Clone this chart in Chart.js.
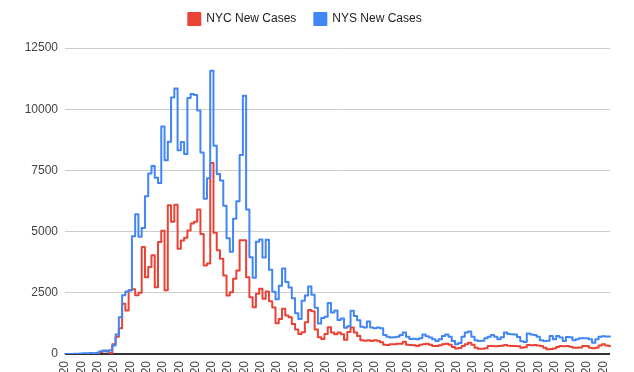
<!DOCTYPE html>
<html>
<head>
<meta charset="utf-8">
<script src="https://cdn.jsdelivr.net/npm/chart.js@4.4.0/dist/chart.umd.min.js"></script>
<style>
html,body{margin:0;padding:0;overflow:hidden;background:#fff;width:634px;height:372px}
#wrap{width:634px;height:420px}
</style>
</head>
<body>
<div id="wrap"><canvas id="c" width="634" height="420"></canvas></div>
<script>
// Categories: daily dates from 3/1/2020 (168 days)
const categories = [];
for (let d = new Date(2020, 2, 1), k = 0; k < 168; k++, d.setDate(d.getDate() + 1)) {
  categories.push((d.getMonth() + 1) + '/' + d.getDate() + '/' + d.getFullYear());
}
const tickEvery = 5;

const nycNewCases = [
  0,0,0,1,2,2,4,5,10,15,
  30,80,110,130,40,400,700,1050,2050,1780,
  2600,2650,2400,2500,4370,3140,3550,4030,2730,4575,
  5030,2600,6080,5400,6100,4300,4640,4750,5050,5330,
  5400,5900,4900,3620,3700,7800,4950,4235,3893,3210,
  2390,2527,3073,3415,4644,4644,3140,2322,1912,2459,
  2664,2254,2550,2150,1900,1257,1434,1844,1570,1500,
  1230,1000,820,890,1300,1800,1750,1000,683,615,
  820,1090,880,810,880,810,580,900,1080,880,
  740,560,540,560,530,560,540,480,380,370,
  400,400,420,420,500,380,370,360,330,380,
  400,420,380,330,330,360,400,420,380,290,
  220,250,330,400,464,380,260,218,218,230,
  328,330,320,330,340,369,340,328,330,320,
  260,280,369,360,369,350,328,260,191,200,
  220,287,328,320,330,300,260,260,270,328,
  330,260,232,260,350,396,350,330
];

const nysNewCases = [
  0,0,1,9,11,22,32,30,36,31,
  50,110,140,100,150,350,800,1500,2400,2550,
  2600,4812,5707,4790,5146,6447,7377,7683,7195,6984,
  9298,7917,8669,10482,10841,8327,8658,8174,10453,10621,
  10575,9946,8236,6337,7177,11571,8505,7358,7090,6054,
  4726,4178,5526,6244,8130,10553,5902,3951,3110,4585,
  4681,3942,4663,3438,2538,2239,2786,3491,2938,2715,
  2273,1660,1430,2176,2390,2762,2419,1889,1250,1474,
  1525,2088,1696,1772,1387,1451,1072,1129,1768,1551,
  1376,1110,1080,1324,1080,1050,1080,1050,780,700,
  670,680,700,780,880,700,615,620,600,640,
  800,720,670,600,530,600,740,800,700,530,
  400,450,700,880,915,700,560,533,540,642,
  700,779,700,601,680,874,820,806,800,697,
  520,492,833,800,779,700,560,533,540,738,
  601,738,669,533,697,680,560,600,642,642,
  640,601,464,600,700,720,710,710
];

const yTicks = [0, 2500, 5000, 7500, 10000, 12500];

const FONT = "'Liberation Sans', Arial, sans-serif";

const legendPlace = {
  id: 'legendPlace',
  afterLayout(chart) {
    const lg = chart.legend;
    if (lg) { const h = lg.bottom - lg.top; lg.top = -5; lg.bottom = lg.top + h; }
  }
};

new Chart(document.getElementById('c'), {
  type: 'line',
  data: {
    labels: categories,
    datasets: [
      { label: 'NYC New Cases', data: nycNewCases, borderColor: '#EA4335', backgroundColor: '#EA4335',
        borderWidth: 2, pointRadius: 0, tension: 0, stepped: 'middle', order: 2,
        borderJoinStyle: 'round', borderCapStyle: 'round' },
      { label: 'NYS New Cases', data: nysNewCases, borderColor: '#4285F4', backgroundColor: '#4285F4',
        borderWidth: 2, pointRadius: 0, tension: 0, stepped: 'middle', order: 1,
        borderJoinStyle: 'round', borderCapStyle: 'round' }
    ]
  },
  options: {
    responsive: false,
    animation: false,
    layout: { padding: { top: 8, right: 24, bottom: 0, left: 0 } },
    plugins: {
      tooltip: { enabled: false },
      legend: {
        position: 'top',
        align: 'center',
        labels: {
          boxWidth: 12, boxHeight: 12, padding: 18, color: '#222',
          font: { family: FONT, size: 12 },
          sort: (a, b) => a.datasetIndex - b.datasetIndex
        }
      }
    },
    scales: {
      x: {
        type: 'category',
        offset: false,
        grid: { display: false, drawTicks: false },
        border: { display: false },
        ticks: {
          autoSkip: false, minRotation: 90, maxRotation: 90, padding: 7,
          color: '#444', font: { family: FONT, size: 12 },
          callback: (v, i) => (i % tickEvery === 0 ? categories[i] : null)
        },
        afterFit: (s) => { s.height = 66; }
      },
      y: {
        min: 0, max: 12500,
        afterBuildTicks: (s) => { s.ticks = yTicks.map(v => ({ value: v })); },
        grid: {
          drawTicks: false,
          color: (c) => (c.tick && c.tick.value === 0 ? '#333' : '#cccccc'),
          lineWidth: (c) => (c.tick && c.tick.value === 0 ? 2 : 1)
        },
        border: { display: false },
        ticks: { padding: 7, color: '#444', font: { family: FONT, size: 12 },
          callback: (v) => String(v) },
        afterFit: (s) => { s.width = 65; }
      }
    }
  },
  plugins: [legendPlace]
});
</script>
</body>
</html>
